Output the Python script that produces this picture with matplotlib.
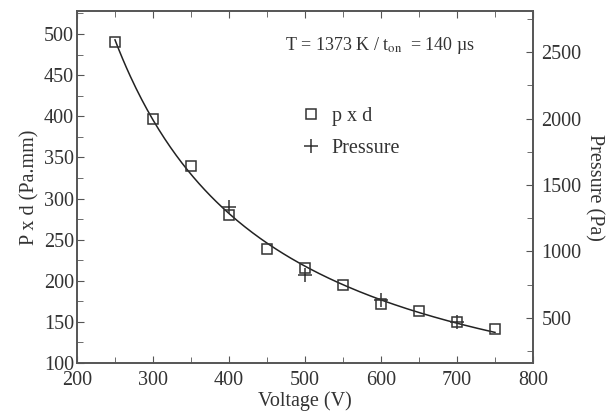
import numpy as np
import matplotlib.pyplot as plt

plt.rcParams['font.family'] = ['Liberation Serif', 'DejaVu Serif']
plt.rcParams['mathtext.fontset'] = 'stix'

voltage = [250, 300, 350, 400, 450, 500, 550, 600, 650, 700, 750]
pxd = [490, 397, 340, 280, 238, 216, 195, 172, 163, 150, 141]

volt_p = [400, 500, 600, 700]
pressure = [1335, 820, 635, 465]

ax_col = '#555555'
txt_col = '#333333'
fs = 14.5

fig = plt.figure(figsize=(6.13, 4.18), dpi=100)
ax = fig.add_axes([0.1256, 0.1316, 0.7439, 0.8421])
ax2 = ax.twinx()

# fitted curve through the p x d points
v = np.array(voltage, dtype=float)
coef = np.polyfit(1.0 / v, np.array(pxd), 2)
vv = np.linspace(v.min(), v.max(), 200)
ax.plot(vv, np.polyval(coef, 1.0 / vv), color='#222222', lw=1.1)

h1, = ax.plot(voltage, pxd, 's', ms=7.5, mfc='none', mec='#333333', mew=1.1, label='p x d')
h2, = ax2.plot(volt_p, pressure, '+', ms=10, color='#333333', mew=1.1, label='Pressure')

ax.set_xlim(200, 800)
ax.set_ylim(100, 528)
ax2.set_ylim(160, 2810)

ax.set_xticks(range(200, 801, 100))
ax.set_xticks(range(250, 800, 100), minor=True)
ax.set_yticks(range(100, 501, 50))
ax.set_yticks(range(125, 526, 50), minor=True)
ax2.set_yticks(range(500, 2501, 500))
ax2.set_yticks(range(250, 2800, 500), minor=True)

ax.tick_params(which='both', direction='in', top=True, right=False, color=ax_col,
               labelsize=fs, labelcolor=txt_col, pad=2)
ax.tick_params(axis='x', pad=6)
ax.tick_params(which='major', length=5)
ax.tick_params(which='minor', length=4)
ax2.tick_params(which='both', direction='in', color=ax_col, labelsize=fs,
                labelcolor=txt_col, pad=6)
ax2.tick_params(which='major', length=5)
ax2.tick_params(which='minor', length=4)

for a in (ax, ax2):
    for s in a.spines.values():
        s.set_color(ax_col)
        s.set_linewidth(1.2)

ax.set_xlabel('Voltage (V)', fontsize=fs, color=txt_col, labelpad=1)
ax.set_ylabel('P x d (Pa.mm)', fontsize=fs, color=txt_col, labelpad=3)
ax2.set_ylabel('Pressure (Pa)', fontsize=fs, color=txt_col, rotation=-90, labelpad=16)

ax.text(0.456, 0.903, r'T = 1373 K / t$_{\rm on}$  = 140 µs', transform=ax.transAxes,
        fontsize=13, color=txt_col, va='center')

ax.legend([h1, h2], ['p x d', 'Pressure'], loc='upper left', bbox_to_anchor=(0.47, 0.755),
          frameon=False, fontsize=fs, handlelength=1.0, handletextpad=0.5,
          labelspacing=0.6, borderpad=0, labelcolor=txt_col)

fig.savefig('out.png', dpi=100)
